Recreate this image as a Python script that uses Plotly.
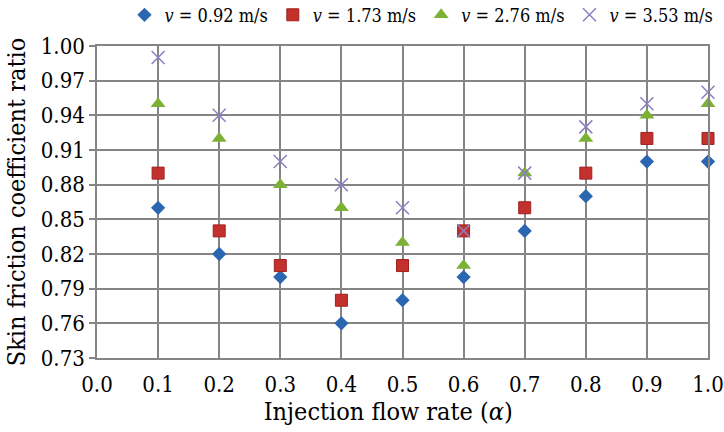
import plotly.graph_objects as go

alpha = [0.1, 0.2, 0.3, 0.4, 0.5, 0.6, 0.7, 0.8, 0.9, 1.0]
v092 = [0.86, 0.82, 0.80, 0.76, 0.78, 0.80, 0.84, 0.87, 0.90, 0.90]
v173 = [0.89, 0.84, 0.81, 0.78, 0.81, 0.84, 0.86, 0.89, 0.92, 0.92]
v276 = [0.95, 0.92, 0.88, 0.86, 0.83, 0.81, 0.89, 0.92, 0.94, 0.95]
v353 = [0.99, 0.94, 0.90, 0.88, 0.86, 0.84, 0.89, 0.93, 0.95, 0.96]
names = ["<i>v</i> = 0.92 m/s", "<i>v</i> = 1.73 m/s", "<i>v</i> = 2.76 m/s", "<i>v</i> = 3.53 m/s"]
yticks = [0.73, 0.76, 0.79, 0.82, 0.85, 0.88, 0.91, 0.94, 0.97, 1.00]
xticks = [0.0, 0.1, 0.2, 0.3, 0.4, 0.5, 0.6, 0.7, 0.8, 0.9, 1.0]

FONT = "'DejaVu Serif Condensed', 'DejaVu Serif', serif"

fig = go.Figure()
fig.add_trace(go.Scatter(x=alpha, y=v092, mode="markers", name=names[0],
                         marker=dict(symbol="diamond", size=11, color="#2b66b0",
                                     line=dict(width=0))))
fig.add_trace(go.Scatter(x=alpha, y=v173, mode="markers", name=names[1],
                         marker=dict(symbol="square", size=12, color="#c2312c",
                                     line=dict(width=1, color="#a02020"))))
fig.add_trace(go.Scatter(x=alpha, y=v276, mode="markers", name=names[2],
                         marker=dict(symbol="triangle-up", size=13, color="#7db136",
                                     line=dict(width=0))))
fig.add_trace(go.Scatter(x=alpha, y=v353, mode="markers", name=names[3],
                         marker=dict(symbol="x-thin", size=13, color="#8a7fc0",
                                     line=dict(width=1.5, color="#8a7fc0"))))
fig.update_traces(cliponaxis=False)

fig.update_layout(
    width=724, height=432,
    margin=dict(l=97, r=16, t=46, b=74, autoexpand=False),
    paper_bgcolor="white", plot_bgcolor="white",
    font=dict(family=FONT, size=22, color="#000"),
    showlegend=True,
    legend=dict(orientation="h", x=0.045, xanchor="left", y=1.099, yanchor="middle",
                font=dict(family=FONT, size=18, color="#000"), itemwidth=30,
                tracegroupgap=0, bgcolor="rgba(0,0,0,0)"),
    xaxis=dict(range=[0, 1], tickvals=xticks, ticktext=[f"{t:.1f}" for t in xticks],
               tickfont=dict(family=FONT, size=22, color="#000"),
               ticklabeloverflow="allow",
               showgrid=True, gridcolor="#858585", gridwidth=1.5,
               showline=True, linecolor="#858585", linewidth=1.5, mirror=True,
               ticks="", ticklabelstandoff=6, zeroline=False, automargin=False,
               title=dict(text="Injection flow rate (<i>α</i>)&nbsp;&nbsp;&nbsp;&nbsp;", standoff=6,
                          font=dict(family=FONT, size=25))),
    yaxis=dict(range=[0.73, 1.00], tickvals=yticks, ticktext=[f"{t:.2f}" for t in yticks],
               tickfont=dict(family=FONT, size=22, color="#000"),
               ticklabeloverflow="allow",
               showgrid=True, gridcolor="#858585", gridwidth=1.5,
               showline=True, linecolor="#858585", linewidth=1.5, mirror=True,
               ticks="outside", ticklen=6, tickcolor="#858585", tickwidth=1.5,
               zeroline=False, automargin=False,
               title=dict(text="Skin friction coefficient ratio", standoff=8,
                          font=dict(family=FONT, size=25))),
)

fig.write_html("out.html")
